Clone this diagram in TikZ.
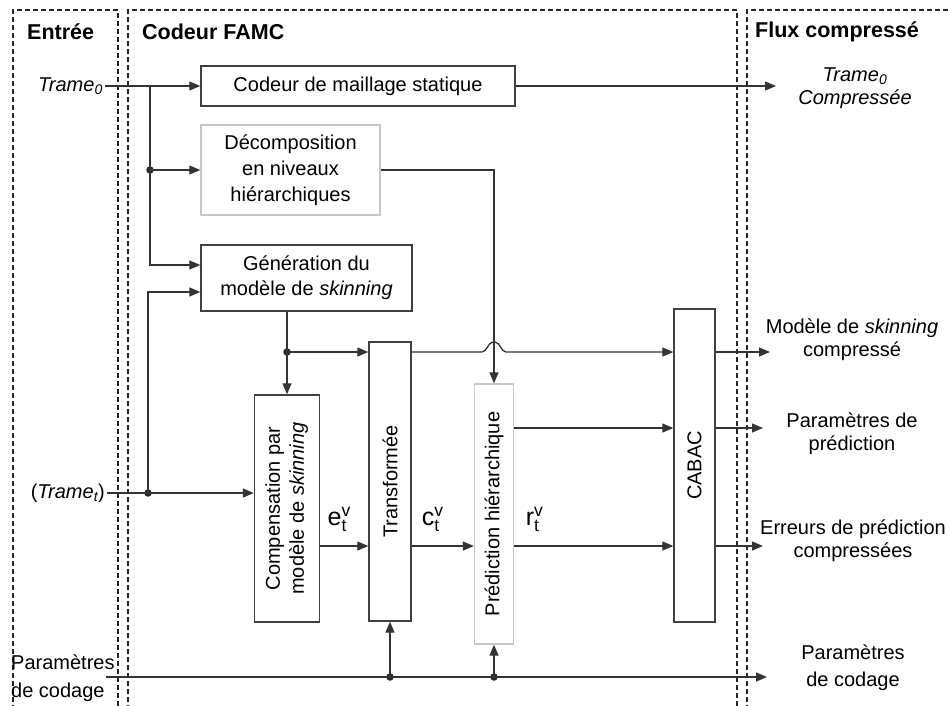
\documentclass[tikz,border=0pt]{standalone}
\usepackage{fontspec}
\setmainfont{Liberation Sans}
\usetikzlibrary{arrows.meta, calc}

\begin{document}
\begin{tikzpicture}[x=1pt, y=-1pt,
  every node/.style={font=\fontsize{20}{24}\selectfont, inner sep=2pt},
  blk/.style={draw=black!75, line width=1.4pt, fill=white, align=center, inner sep=0pt},
  lblk/.style={blk, draw=black!22},
  arr/.style={-{Triangle[length=11pt, width=9pt]}, line width=1.3pt, draw=black!80},
  lin/.style={line width=1.3pt, draw=black!80},
  junc/.style={circle, fill=black!85, inner sep=0pt, minimum size=7.5pt},
  panel/.style={dash pattern=on 5pt off 3pt, line width=1.1pt, draw=black!85},
  head/.style={font=\fontsize{21.5}{24}\selectfont\bfseries, anchor=west},
  outtxt/.style={align=center, font=\fontsize{20}{23}\selectfont},
  sig/.style={font=\fontsize{25}{25}\selectfont, inner sep=1pt},
]
  \useasboundingbox (0,0) rectangle (949,705);

  % ── Panels ─────────────────────────────────────────
  \draw[panel] (13,710) -- (13,10) -- (118,10) -- (118,710);
  \draw[panel] (128,710) -- (128,10) -- (737,10) -- (737,710);
  \draw[panel] (747,710) -- (747,10) -- (955,10);
  \node[head] (hin)  at (25,32)  {Entrée};
  \node[head] (hcod) at (140,32) {Codeur FAMC};
  \node[head] (hout) at (753,32) {Flux compressé};

  % ── Blocks ─────────────────────────────────────────
  \node[blk,  minimum width=314pt, minimum height=40pt] (stat) at (358,86) {Codeur de maillage statique};
  \node[lblk, minimum width=179pt, minimum height=90pt, font=\fontsize{20}{26}\selectfont] (decomp) at (290.5,170)
        {Décomposition\\en niveaux\\hiérarchiques};
  \node[blk,  minimum width=211pt, minimum height=66pt, font=\fontsize{20}{25}\selectfont] (gener) at (306.5,278)
        {Génération du\\modèle de \textit{skinning}};
  \node[blk,  minimum width=65pt, minimum height=227pt] (comp) at (287,508.5)
        {\rotatebox{90}{\begin{tabular}{@{}c@{}}Compensation par\\modèle de \textit{skinning}\end{tabular}}};
  \node[blk,  minimum width=42pt, minimum height=279pt] (transf) at (390,481.5) {\rotatebox{90}{Transformée}};
  \node[lblk, minimum width=39pt, minimum height=260pt] (pred) at (494,514) {\rotatebox{90}{Prédiction hiérarchique}};
  \node[blk,  minimum width=41pt, minimum height=313pt] (cabac) at (694.5,465.5) {\rotatebox{90}{CABAC}};

  % ── Inputs ─────────────────────────────────────────
  \node[anchor=east] (tr0) at (105,86)  {\textit{Trame\textsubscript{0}}};
  \node[anchor=east] (trt) at (107,493) {(\textit{Trame\textsubscript{t}})};
  \node[anchor=west, align=left, font=\fontsize{20}{28}\selectfont] (pcin) at (9,678) {Paramètres\\ de codage};

  % ── Outputs ────────────────────────────────────────
  \node[outtxt] (o0) at (855,88)  {\textit{Trame\textsubscript{0}}\\\textit{Compressée}};
  \node[outtxt] (o1) at (852,340) {Modèle de \textit{skinning}\\compressé};
  \node[outtxt] (o2) at (852,434) {Paramètres de\\prédiction};
  \node[outtxt] (o3) at (853,541) {Erreurs de prédiction\\compressées};
  \node[outtxt, font=\fontsize{20}{27}\selectfont] (o4) at (853,668) {Paramètres\\de codage};

  \coordinate (e0) at (776,86);
  \coordinate (e1) at (770,352);
  \coordinate (e2) at (763,428);
  \coordinate (e3) at (763,546);
  \coordinate (e4) at (767,677);
  \coordinate (pc) at (106,677);
  \coordinate (yp) at (0,428);
  \coordinate (ye) at (0,546);

  % ── Junctions ──────────────────────────────────────
  \coordinate (j0) at (150,86);
  \node[junc] (j1) at (150,170) {};
  \node[junc] (j2) at (148,493) {};
  \node[junc] (j3) at (287,352) {};
  \node[junc] (j4) at (390,677) {};
  \node[junc] (j5) at (494,677) {};
  \coordinate (hop) at (j3 -| pred.north);

  % ── Connections ────────────────────────────────────
  \draw[arr] (tr0.east) -- (stat.west);
  \draw[lin] (j0) -- (j1.center);
  \draw[arr] (j1.center) -- (decomp.west);
  \draw[arr] (j1.center) |- ([yshift=13pt]gener.west);
  \draw[arr] (trt.east) -- (trt.east -| comp.west);
  \draw[arr] (j2.center) |- ([yshift=-14pt]gener.west);
  \draw[arr] (stat.east) -- (e0);
  \draw[arr] (decomp.east) -| (pred.north);
  \draw[arr] (gener.south -| comp.north) -- (comp.north);
  \draw[arr] (j3.center) -- (j3 -| transf.west);
  \draw[arr, rounded corners=2pt] (j3 -| transf.east) -- ([xshift=-10pt]hop) -- ++(7pt,10pt)
        -- ++(6pt,0pt) -- ++(7pt,-10pt) -- (j3 -| cabac.west);
  \draw[arr] (pred.east |- yp) -- (cabac.west |- yp);
  \draw[arr] (comp.east |- ye) -- node[sig, above=13pt, xshift=-5pt] (le)
        {$\mathrm{e}_{\mathrm{t}}^{\mathrm{v}}$} (transf.west |- ye);
  \draw[arr] (transf.east |- ye) -- node[sig, above=13pt, xshift=-10pt] (lc)
        {$\mathrm{c}_{\mathrm{t}}^{\mathrm{v}}$} (pred.west |- ye);
  \draw[arr] (pred.east |- ye) -- node[sig, pos=0, anchor=south west, xshift=10pt, yshift=13pt] (lr)
        {$\mathrm{r}_{\mathrm{t}}^{\mathrm{v}}$} (cabac.west |- ye);
  \draw[arr] (cabac.east |- j3) -- (e1);
  \draw[arr] (cabac.east |- yp) -- (e2);
  \draw[arr] (cabac.east |- ye) -- (e3);
  \draw[arr] (pc) -- (e4);
  \draw[arr] (j4.center) -- (transf.south);
  \draw[arr] (j5.center) -- (pred.south);

\end{tikzpicture}
\end{document}
